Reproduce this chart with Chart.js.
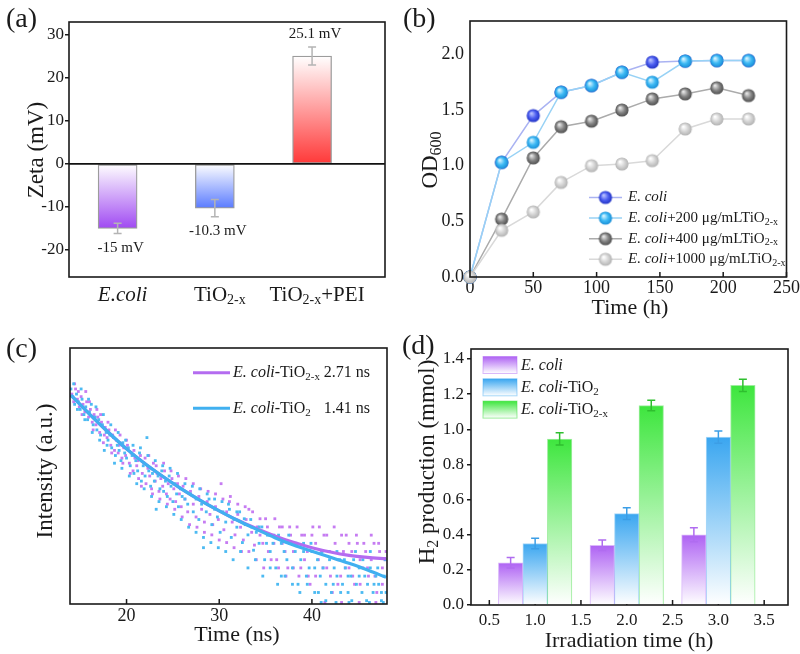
<!DOCTYPE html>
<html><head><meta charset="utf-8">
<script src="https://cdn.jsdelivr.net/npm/chart.js@4.4.1/dist/chart.umd.min.js"></script>
<style>
html,body{margin:0;padding:0;background:#fff;}
body{width:800px;height:654px;position:relative;overflow:hidden;}
canvas{position:absolute;}
</style></head><body>
<canvas id="ca" width="400" height="320" style="left:0;top:0"></canvas>
<canvas id="cb" width="400" height="320" style="left:400px;top:0"></canvas>
<canvas id="cc" width="400" height="334" style="left:0;top:320px"></canvas>
<canvas id="cd" width="400" height="334" style="left:400px;top:320px"></canvas>
<script>
// ---------------- DATA ----------------
// (a) zeta potential
const zetaCats = ['_E.coli_', 'TiO~2-x~', 'TiO~2-x~+PEI'];
const zetaPos = [1, 2, 3];
const zetaVals = [-15, -10.3, 25.1];
const zetaErr = [1.2, 2.0, 2.1];
const zetaText = ['-15 mV', '-10.3 mV', '25.1 mV'];
const zetaTicks = [-20, -10, 0, 10, 20, 30];

// (b) growth curves
const odTime = [0, 25, 50, 72, 96, 120, 144, 170, 195, 220];
const odEcoli = [0, 1.03, 1.45, 1.66, 1.72, 1.84, 1.93, 1.94, 1.945, 1.945];
const od200 = [0, 1.03, 1.21, 1.66, 1.72, 1.84, 1.75, 1.94, 1.945, 1.945];
const od400 = [0, 0.52, 1.07, 1.35, 1.40, 1.50, 1.60, 1.645, 1.70, 1.63];
const od1000 = [0, 0.42, 0.585, 0.85, 1.0, 1.015, 1.045, 1.33, 1.42, 1.42];
const odTicksX = [0, 50, 100, 150, 200, 250];
const odTicksY = [0, 0.5, 1.0, 1.5, 2.0];
const odLegend = ['_E. coli_', '_E. coli_+200 μg/mLTiO~2-x~', '_E. coli_+400 μg/mLTiO~2-x~', '_E. coli_+1000 μg/mLTiO~2-x~'];

// (c) decay
const fitT = [14, 16, 18, 20, 22, 24, 26, 28, 30, 32, 34, 36, 38, 40, 42, 44, 46, 48];
const fitBlue = [81.6, 74.2, 67.2, 60.6, 54.8, 49.6, 44.8, 40.4, 36.4, 32.6, 29.2, 25.9, 23.0, 20.6, 18.3, 15.9, 13.3, 10.4];
const fitPurple = [81.6, 74.2, 67.2, 60.6, 54.8, 49.6, 44.8, 40.4, 36.4, 32.7, 29.5, 26.6, 24.1, 22.0, 20.3, 19.0, 18.2, 17.7];
const purpleDots = [[14.1,82],[14.3,79],[14.5,84],[14.7,80],[14.9,77],[15.1,81],[15.3,78],[15.5,75],[15.7,79],[15.9,73],[16.1,76],[16.3,71],[16.5,74],[16.7,70],[16.9,73],[17.1,67],[17.3,71],[17.5,63],[17.7,69],[17.9,65],[18.1,68],[18.3,62],[18.5,66],[18.7,60],[18.9,64],[19.1,59],[19.3,66],[19.5,57],[19.7,61],[19.9,58],
[20.1,62],[20.3,55],[20.5,59],[20.7,52],[20.9,57],[21.1,54],[21.3,49],[21.5,58],[21.7,51],[21.9,55],[22.1,47],[22.3,53],[22.5,50],[22.7,45],[22.9,55],[23.1,48],[23.3,51],[23.5,44],[23.7,49],[23.9,46],[24.1,52],[24.3,43],[24.5,47],[24.7,41],[24.9,49],[25.1,45],[25.3,40],[25.5,47],[25.7,43],[25.9,38],
[26.1,46],[26.3,41],[26.6,36],[26.9,44],[27.2,39],[27.5,34],[27.8,42],[28.1,37],[28.4,32],[28.7,40],[29.0,35],[29.3,31],[29.6,38],[29.9,33],[30.2,47],[30.5,29],[30.8,36],[31.1,40],[31.4,32],[31.7,27],[32.0,35],[32.3,30],[32.6,25],[32.9,33],[33.2,37],[33.5,28],[33.8,23],
[34.1,30.1],[34.4,26.9],[34.7,23.7],[35.0,33.3],[35.3,20.5],[35.6,26.9],[35.9,23.7],[36.2,17.3],[36.5,30.1],[36.8,23.7],[37.1,20.5],[37.4,14.1],[37.7,26.9],[38.0,20.5],[38.3,23.7],[38.6,10.9],[38.9,26.9],[39.2,17.3],[39.5,20.5],[39.8,7.7],[40.1,30.1],[40.4,23.7],[40.7,17.3],[41.0,20.5],[41.3,26.9],[41.6,14.1],[41.9,20.5],[42.2,4.5],[42.5,23.7],[42.8,17.3],[43.1,10.9],[43.4,20.5],[43.7,26.9],[44.0,14.1],[44.3,20.5],[44.6,7.7],[44.9,23.7],[45.2,17.3],[45.5,14.1],[45.8,20.5],[46.1,10.9],[46.4,17.3],[46.7,23.7],[47.0,4.5],[47.3,20.5],[47.6,14.1],[47.9,17.3],
[41.4,0.6],[43.2,0.6],[45.1,0.6],[46.9,0.6],
[14.4,86],[14.8,83],[15.2,74],[15.6,83],[16.0,79],[16.4,68],[16.8,76],[17.2,74],[17.6,66],[18.0,71],[18.4,59],[18.8,68],[19.2,62],[19.6,55],[20.0,64],[20.4,51],[20.8,60],[21.2,56],[21.6,46],[22.0,57],[22.4,58],[22.8,43],[23.2,54],[23.6,41],[24.0,55],[24.4,39],[24.8,52],[25.2,37],[25.6,50],[26.0,34],[26.4,49],[26.8,31],[27.2,47],[27.6,30],[28.0,45],[28.4,28],[28.8,44],[29.2,27],[29.6,43],[30.0,25],[30.4,41],[30.8,24],[31.2,42],[31.6,22],[32.0,39],[32.4,20.5],[32.8,38],[33.2,20.5],[33.6,36],[34.0,17.3],[34.4,33.3],[34.8,14.1],[35.2,30.1],[35.6,17.3],[36.0,33.3],[36.4,14.1],[36.8,30.1],[37.2,10.9],[37.6,30.1],[38.0,14.1],[38.4,30.1],[38.8,14.1],[39.2,26.9],[39.6,10.9],[40.0,26.9],[40.4,10.9],[40.8,30.1],[41.2,14.1],[41.6,26.9],[42.0,10.9],[42.4,30.1],[42.8,7.7],[43.2,26.9],[43.6,14.1],[44.0,23.7],[44.4,10.9],[44.8,26.9],[45.2,7.7],[45.6,23.7],[46.0,14.1],[46.4,26.9],[46.8,10.9],[47.2,23.7],[47.6,7.7],[48.0,20.5]];
const blueDots = [[14.0,84],[14.2,81],[14.4,78],[14.6,82],[14.8,79],[15.0,76],[15.2,80],[15.4,74],[15.6,77],[15.8,72],[16.0,75],[16.2,78],[16.4,70],[16.6,73],[16.8,68],[17.0,72],[17.2,66],[17.4,70],[17.6,60],[17.8,67],[18.0,64],[18.2,66],[18.4,61],[18.6,65],[18.8,58],[19.0,62],[19.2,60],[19.4,56],[19.6,63],[19.8,59],
[20.0,57],[20.2,61],[20.4,54],[20.6,58],[20.8,51],[21.0,56],[21.2,52],[21.4,59],[21.6,48],[21.8,54],[22.0,50],[22.2,65],[22.4,52],[22.6,46],[22.8,51],[23.0,48],[23.2,37],[23.4,50],[23.6,45],[23.8,52],[24.0,44],[24.2,48],[24.4,42],[24.6,50],[24.8,46],[25.0,40],[25.2,47],[25.4,43],[25.6,38],[25.8,45],
[26.0,42],[26.3,47],[26.6,39],[26.9,43],[27.2,36],[27.5,41],[27.8,33],[28.1,39],[28.3,22],[28.6,36],[28.9,41],[29.2,31],[29.5,37],[29.8,34],[30.1,28],[30.4,36],[30.7,32],[31.0,39],[31.3,26],[31.6,33],[31.9,30],[32.2,36],[32.5,24],[32.8,31],[33.1,27],[33.4,33],[33.7,21],
[34.0,28],[34.3,23.7],[34.6,30.1],[34.9,17.3],[35.2,26.9],[35.5,20.5],[35.8,23.7],[36.1,14.1],[36.4,26.9],[36.7,10.9],[37.0,20.5],[37.3,17.3],[37.6,23.7],[37.9,14.1],[38.2,20.5],[38.5,7.7],[38.8,17.3],[39.1,23.7],[39.4,10.9],[39.7,14.1],[40.0,20.5],[40.3,4.5],[40.6,17.3],[40.9,10.9],[41.2,14.1],[41.5,7.7],[41.8,20.5],[42.1,4.5],[42.4,14.1],[42.7,10.9],[43.0,17.3],[43.3,7.7],[43.6,14.1],[43.9,4.5],[44.2,10.9],[44.5,17.3],[44.8,7.7],[45.1,14.1],[45.4,4.5],[45.7,10.9],[46.0,7.7],[46.3,14.1],[46.6,4.5],[46.9,10.9],[47.2,7.7],[47.5,1.3],[47.8,10.9],[48.0,4.5],
[41.0,0.6],[42.6,0.6],[44.0,0.6],[46.2,0.6],[47.7,0.6],
[14.3,86],[14.7,76],[15.1,84],[15.5,72],[15.9,80],[16.3,67],[16.7,77],[17.1,64],[17.5,74],[17.9,62],[18.3,70],[18.7,55],[19.1,67],[19.5,53],[19.9,64],[20.3,50],[20.7,62],[21.1,47],[21.5,61],[21.9,45],[22.3,58],[22.7,42],[23.1,56],[23.5,40],[23.9,54],[24.3,38],[24.7,53],[25.1,35],[25.5,51],[25.9,33],[26.3,41],[26.7,30],[27.1,46],[27.5,28],[27.9,45],[28.3,26],[28.7,43],[29.1,24],[29.5,41],[29.9,22],[30.3,40],[30.7,20.5],[31.1,37],[31.5,17.3],[31.9,36],[32.3,20.5],[32.7,33.3],[33.1,14.1],[33.5,30.1],[33.9,17.3],[34.3,30.1],[34.7,10.9],[35.1,23.7],[35.5,14.1],[35.9,26.9],[36.3,7.7],[36.7,23.7],[37.1,10.9],[37.5,26.9],[37.9,7.7],[38.3,23.7],[38.7,4.5],[39.1,20.5],[39.5,7.7],[39.9,23.7],[40.3,14.1],[40.7,4.5],[41.1,20.5],[41.5,1.3],[41.9,17.3],[42.3,7.7],[42.7,20.5],[43.1,4.5],[43.5,17.3],[43.9,10.9],[44.3,1.3],[44.7,20.5],[45.1,10.9],[45.5,17.3],[45.9,1.3],[46.3,20.5],[46.7,7.7],[47.1,14.1],[47.5,4.5],[47.9,17.3]];
const decayTicksX = [20, 30, 40];
const decayLegend = ['_E. coli_-TiO~2-x~', '_E. coli_-TiO~2~'];
const decayLife = ['2.71 ns', '1.41 ns'];

// (d) H2 production
const h2Time = [1.0, 2.0, 3.0];
const h2Ecoli = [0.24, 0.34, 0.40];
const h2TiO2 = [0.35, 0.52, 0.955];
const h2TiO2x = [0.945, 1.135, 1.25];
const h2ErrEcoli = [0.03, 0.03, 0.04];
const h2ErrTiO2 = [0.03, 0.033, 0.035];
const h2ErrTiO2x = [0.035, 0.03, 0.035];
const h2TicksX = [0.5, 1.0, 1.5, 2.0, 2.5, 3.0, 3.5];
const h2TicksY = [0, 0.2, 0.4, 0.6, 0.8, 1.0, 1.2, 1.4];
const h2Legend = ['_E. coli_', '_E. coli_-TiO~2~', '_E. coli_-TiO~2-x~'];

// ---------------- HELPERS ----------------
const FONT = '"Liberation Serif","Times New Roman",serif';
const INK = '#1a1a1a';
Chart.defaults.font.family = FONT;
Chart.defaults.color = INK;

function parseRich(s){
  const out=[]; let it=false, sub=false, buf='';
  for (const ch of s){
    if (ch==='_'||ch==='~'){ if(buf) out.push({t:buf,it,sub}); buf=''; if(ch==='_') it=!it; else sub=!sub; }
    else buf+=ch;
  }
  if (buf) out.push({t:buf,it,sub});
  return out;
}
function fontStr(g,size){ return (g.it?'italic ':'')+(g.sub?Math.round(size*0.68):size)+'px '+FONT; }
function drawRich(ctx, s, x, y, o){
  o=o||{}; const size=o.size||16, align=o.align||'left', rot=o.rot||0, color=o.color||INK;
  const segs=parseRich(s);
  ctx.save(); ctx.translate(x,y); ctx.rotate(rot);
  let w=0; segs.forEach(g=>{ctx.font=fontStr(g,size); g.w=ctx.measureText(g.t).width; w+=g.w;});
  let cx = align==='center'? -w/2 : (align==='right'? -w : 0);
  ctx.fillStyle=color; ctx.textBaseline='middle'; ctx.textAlign='left';
  segs.forEach(g=>{ctx.font=fontStr(g,size); ctx.fillText(g.t, cx, g.sub? size*0.27 : 0); cx+=g.w;});
  ctx.restore();
}
function frame(chart){
  const {ctx, chartArea:a}=chart;
  ctx.save(); ctx.strokeStyle=INK; ctx.lineWidth=1.6;
  ctx.strokeRect(a.left,a.top,a.right-a.left,a.bottom-a.top); ctx.restore();
}
function ticksIn(chart, values, len){
  const s=chart.scales.x, a=chart.chartArea, ctx=chart.ctx;
  ctx.save(); ctx.strokeStyle=INK; ctx.lineWidth=1.5; ctx.beginPath();
  values.forEach(v=>{ const p=s.getPixelForValue(v); ctx.moveTo(p,a.bottom); ctx.lineTo(p,a.bottom-len); });
  ctx.stroke(); ctx.restore();
}
function errorBars(chart, di, vals, errs, color, cap){
  const meta=chart.getDatasetMeta(di), ys=chart.scales.y, ctx=chart.ctx;
  ctx.save(); ctx.strokeStyle=color; ctx.lineWidth=1.5; ctx.beginPath();
  meta.data.forEach((el,i)=>{
    const x=el.x, y1=ys.getPixelForValue(vals[i]-errs[i]), y2=ys.getPixelForValue(vals[i]+errs[i]);
    ctx.moveTo(x,y1); ctx.lineTo(x,y2);
    ctx.moveTo(x-cap,y1); ctx.lineTo(x+cap,y1);
    ctx.moveTo(x-cap,y2); ctx.lineTo(x+cap,y2);
  });
  ctx.stroke(); ctx.restore();
}
function makeDeco(cfg){
  return {
    id:'deco',
    beforeDatasetsDraw(chart){ if(cfg.before) cfg.before(chart); },
    afterDatasetsDraw(chart){ if(cfg.after) cfg.after(chart); },
    afterDraw(chart){
      frame(chart);
      (cfg.texts||[]).forEach(t=>drawRich(chart.ctx,t.s,t.x,t.y,t));
      if(cfg.last) cfg.last(chart);
    }
  };
}
function gradFill(values, topColor, bottomColor){
  return (c)=>{
    if (c.type!=='data') return bottomColor;
    const ys=c.chart.scales.y; if(!ys) return bottomColor;
    const v=values[c.dataIndex];
    const p1=ys.getPixelForValue(v), p0=ys.getPixelForValue(0);
    if(!isFinite(p0)||!isFinite(p1)||p0===p1) return bottomColor;
    const g=c.chart.ctx.createLinearGradient(0,Math.min(p0,p1),0,Math.max(p0,p1));
    g.addColorStop(0,topColor); g.addColorStop(1,bottomColor); return g;
  };
}
function sphere(light, mid, dark, r){
  const c=document.createElement('canvas'); const s=Math.ceil(2*r+2); c.width=c.height=s;
  const g=c.getContext('2d'), cx=s/2, cy=s/2;
  const gr=g.createRadialGradient(cx-r*0.3, cy-r*0.35, r*0.08, cx, cy, r);
  gr.addColorStop(0, light); gr.addColorStop(0.55, mid); gr.addColorStop(1, dark);
  g.fillStyle=gr; g.beginPath(); g.arc(cx,cy,r,0,Math.PI*2); g.fill(); return c;
}
const yTickFix = arr => (s)=>{ s.ticks = arr.map(v=>({value:v})); };
const common = {responsive:false, animation:false, devicePixelRatio:1,
  plugins:{legend:{display:false}, tooltip:{enabled:false}}};

// ---------------- (a) ----------------
const zetaColors = ['#a04af2', '#5a7bff', '#ff3838'];
new Chart(document.getElementById('ca'), {
  type:'bar',
  data:{datasets:[{
    data: zetaPos.map((x,i)=>({x, y:zetaVals[i]})),
    backgroundColor: (c)=> c.type==='data' ? gradFill(zetaVals,'#ffffff',zetaColors[c.dataIndex])(c) : '#ccc',
    borderColor:'#9c9c9c', borderWidth:1.3, borderSkipped:false, barThickness:39
  }]},
  options:Object.assign({}, common, {
    layout:{padding:{left:0,right:15,top:22,bottom:0}},
    scales:{
      x:{type:'linear', min:0.5, max:3.75, offset:false, ticks:{display:false}, grid:{display:false, drawTicks:false}, border:{display:false},
         afterFit:s=>{s.height=43;}},
      y:{type:'linear', min:-26.3, max:33, afterBuildTicks:yTickFix(zetaTicks),
         ticks:{font:{size:17}, color:INK, padding:1, callback:v=>String(v)},
         grid:{drawOnChartArea:false, drawTicks:true, tickLength:4, color:INK, lineWidth:1.5}, border:{display:false},
         afterFit:s=>{s.width=69;}}
    }
  }),
  plugins:[makeDeco({
    texts:[{s:'(a)',x:6,y:20,size:28},{s:'Zeta (mV)',x:37,y:150,size:23,rot:-Math.PI/2,align:'center'}],
    after(chart){
      const ctx=chart.ctx, a=chart.chartArea, ys=chart.scales.y, xs=chart.scales.x;
      const y0=ys.getPixelForValue(0);
      ctx.save(); ctx.strokeStyle='#111'; ctx.lineWidth=1.6; ctx.beginPath(); ctx.moveTo(a.left,y0); ctx.lineTo(a.right,y0); ctx.stroke(); ctx.restore();
      errorBars(chart,0,zetaVals,zetaErr,'#b4b4b4',4);
      const meta=chart.getDatasetMeta(0);
      meta.data.forEach((el,i)=>{
        const v=zetaVals[i], e=zetaErr[i];
        const y = v<0 ? ys.getPixelForValue(v-e)+14 : ys.getPixelForValue(v+e)-13;
        drawRich(ctx, zetaText[i], el.x+3, y, {size:15, align:'center'});
      });
      zetaCats.forEach((c,i)=> drawRich(ctx, c, xs.getPixelForValue(zetaPos[i])+5, 295, {size:21, align:'center'}));
    }
  })]
});

// ---------------- (b) ----------------
const sphEcoli = sphere('#b9c2ff','#4b5df0','#2233c4',6.6);
const sph200 = sphere('#d6f4ff','#3bb8f4','#1b8fd6',6.6);
const sph400 = sphere('#e6e6e6','#848484','#4e4e4e',6.6);
const sph1000 = sphere('#ffffff','#d4d4d4','#b2b2b2',6.6);
const odSeries = [odEcoli, od200, od400, od1000];
const odSph = [sphEcoli, sph200, sph400, sph1000];
const odLine = ['#aab3f2', '#98d2f5', '#ababab', '#d9d9d9'];
const odOrder = [2, 1, 3, 0];
new Chart(document.getElementById('cb'), {
  type:'line',
  data:{datasets: odSeries.map((ser,k)=>({
    data: odTime.map((t,i)=>({x:t, y:ser[i]})),
    borderColor: odLine[k], borderWidth:1.5, pointStyle: odSph[k], pointRadius:6.6, clip:false, order: odOrder[k], tension:0
  }))},
  options:Object.assign({}, common, {
    layout:{padding:{left:0,right:13,top:21,bottom:0}},
    scales:{
      x:{type:'linear', min:0, max:250, afterBuildTicks:yTickFix(odTicksX),
         ticks:{font:{size:18}, color:INK, padding:0, maxRotation:0, callback:v=>String(v)},
         grid:{display:false, drawTicks:false}, border:{display:false}, afterFit:s=>{s.height=43;}},
      y:{type:'linear', min:0, max:2.3, afterBuildTicks:yTickFix(odTicksY),
         ticks:{font:{size:18}, color:INK, padding:6, callback:v=>v.toFixed(1)},
         grid:{display:false, drawTicks:false}, border:{display:false}, afterFit:s=>{s.width=70;}}
    }
  }),
  plugins:[makeDeco({
    texts:[{s:'(b)',x:3,y:20,size:28},{s:'OD~600~',x:31,y:160,size:23,rot:-Math.PI/2,align:'center'},
           {s:'Time (h)',x:230,y:308,size:22,align:'center'}],
    before(chart){ ticksIn(chart, odTicksX, 5); },
    last(chart){
      const ctx=chart.ctx;
      odLegend.forEach((lab,k)=>{
        const y=197.5+k*20.6;
        ctx.save(); ctx.strokeStyle=odLine[k]; ctx.lineWidth=1.5; ctx.beginPath(); ctx.moveTo(189,y); ctx.lineTo(222,y); ctx.stroke();
        const im=odSph[k]; ctx.drawImage(im, 205.5-im.width/2, y-im.height/2); ctx.restore();
        drawRich(ctx, lab, 228, y, {size:15});
      });
    }
  })]
});

// ---------------- (c) ----------------
new Chart(document.getElementById('cc'), {
  type:'scatter',
  data:{datasets:[
    {data: fitT.map((t,i)=>({x:t,y:fitPurple[i]})), showLine:true, borderColor:'#b46cf0', borderWidth:3.2, pointRadius:0, cubicInterpolationMode:'monotone', order:1},
    {data: fitT.map((t,i)=>({x:t,y:fitBlue[i]})), showLine:true, borderColor:'#40b0f0', borderWidth:3.2, pointRadius:0, cubicInterpolationMode:'monotone', order:0},
    {data: purpleDots.map(p=>({x:p[0],y:p[1]})), pointStyle:'rect', pointRadius:2.0, backgroundColor:'#c67cf2', borderWidth:0, order:3},
    {data: blueDots.map(p=>({x:p[0],y:p[1]})), pointStyle:'rect', pointRadius:2.0, backgroundColor:'#4cbaf2', borderWidth:0, order:2}
  ]},
  options:Object.assign({}, common, {
    layout:{padding:{left:0,right:13,top:28,bottom:0}},
    scales:{
      x:{type:'linear', min:13.9, max:48.1, afterBuildTicks:yTickFix(decayTicksX),
         ticks:{font:{size:18}, color:INK, padding:1, maxRotation:0, callback:v=>String(v)},
         grid:{display:false, drawTicks:false}, border:{display:false}, afterFit:s=>{s.height=50;}},
      y:{type:'linear', min:0, max:100, ticks:{display:false}, grid:{display:false, drawTicks:false}, border:{display:false},
         afterFit:s=>{s.width=70;}}
    }
  }),
  plugins:[makeDeco({
    texts:[{s:'(c)',x:6,y:30,size:28},{s:'Intensity (a.u.)',x:46,y:151,size:23,rot:-Math.PI/2,align:'center'},
           {s:'Time (ns)',x:237,y:315,size:22,align:'center'}],
    last(chart){
      const ctx=chart.ctx; ticksIn(chart, decayTicksX, 5);
      const cols=['#b46cf0','#40b0f0'], ys=[52.7,88.3];
      decayLegend.forEach((lab,k)=>{
        ctx.save(); ctx.strokeStyle=cols[k]; ctx.lineWidth=3; ctx.beginPath(); ctx.moveTo(193,ys[k]); ctx.lineTo(230,ys[k]); ctx.stroke(); ctx.restore();
        drawRich(ctx, lab, 233, ys[k], {size:16});
        drawRich(ctx, decayLife[k], 370, ys[k], {size:16, align:'right'});
      });
    }
  })]
});

// ---------------- (d) ----------------
const h2Series = [h2Ecoli, h2TiO2, h2TiO2x];
const h2Errs = [h2ErrEcoli, h2ErrTiO2, h2ErrTiO2x];
const h2Top = ['#ae62f3', '#3aa6f0', '#3ee63e'];
const h2Edge = ['rgba(174,98,243,0.45)', 'rgba(58,166,240,0.45)', 'rgba(62,220,62,0.5)'];
const h2ErrCol = ['#b06cf0', '#3c9ee6', '#2fbf2f'];
new Chart(document.getElementById('cd'), {
  type:'bar',
  data:{datasets: h2Series.map((ser,k)=>({
    data: h2Time.map((t,i)=>({x:t, y:ser[i]})),
    backgroundColor: gradFill(ser, h2Top[k], '#ffffff'),
    borderColor: h2Edge[k], borderWidth:1, barThickness:24.5
  }))},
  options:Object.assign({}, common, {
    layout:{padding:{left:0,right:12,top:29,bottom:0}},
    scales:{
      x:{type:'linear', min:0.3, max:3.76, offset:false, afterBuildTicks:yTickFix(h2TicksX),
         ticks:{font:{size:17}, color:INK, padding:5, maxRotation:0, callback:v=>v.toFixed(1)},
         grid:{display:false, drawTicks:false}, border:{display:false}, afterFit:s=>{s.height=49;}},
      y:{type:'linear', min:0, max:1.457, afterBuildTicks:yTickFix(h2TicksY),
         ticks:{font:{size:17}, color:INK, padding:3, callback:v=>v.toFixed(1)},
         grid:{drawOnChartArea:false, drawTicks:true, tickLength:4, color:INK, lineWidth:1.5}, border:{display:false},
         afterFit:s=>{s.width=71;}}
    }
  }),
  plugins:[makeDeco({
    texts:[{s:'(d)',x:2,y:27,size:28},{s:'H~2~ production (mmol)',x:28,y:142,size:23,rot:-Math.PI/2,align:'center'},
           {s:'Irradiation time (h)',x:229,y:321,size:22,align:'center'}],
    before(chart){ ticksIn(chart, h2TicksX, 5); },
    after(chart){ h2Series.forEach((ser,k)=> errorBars(chart,k,ser,h2Errs[k],h2ErrCol[k],4)); },
    last(chart){
      const ctx=chart.ctx;
      h2Legend.forEach((lab,k)=>{
        const y=45.5+k*22.3;
        const g=ctx.createLinearGradient(0,y-9,0,y+8);
        g.addColorStop(0,h2Top[k]); g.addColorStop(1,'#ffffff');
        ctx.save(); ctx.fillStyle=g; ctx.fillRect(83,y-9,34,17);
        ctx.strokeStyle=h2Edge[k]; ctx.lineWidth=1; ctx.strokeRect(83,y-9,34,17); ctx.restore();
        drawRich(ctx, lab, 121, y, {size:16});
      });
    }
  })]
});
</script>
</body></html>
